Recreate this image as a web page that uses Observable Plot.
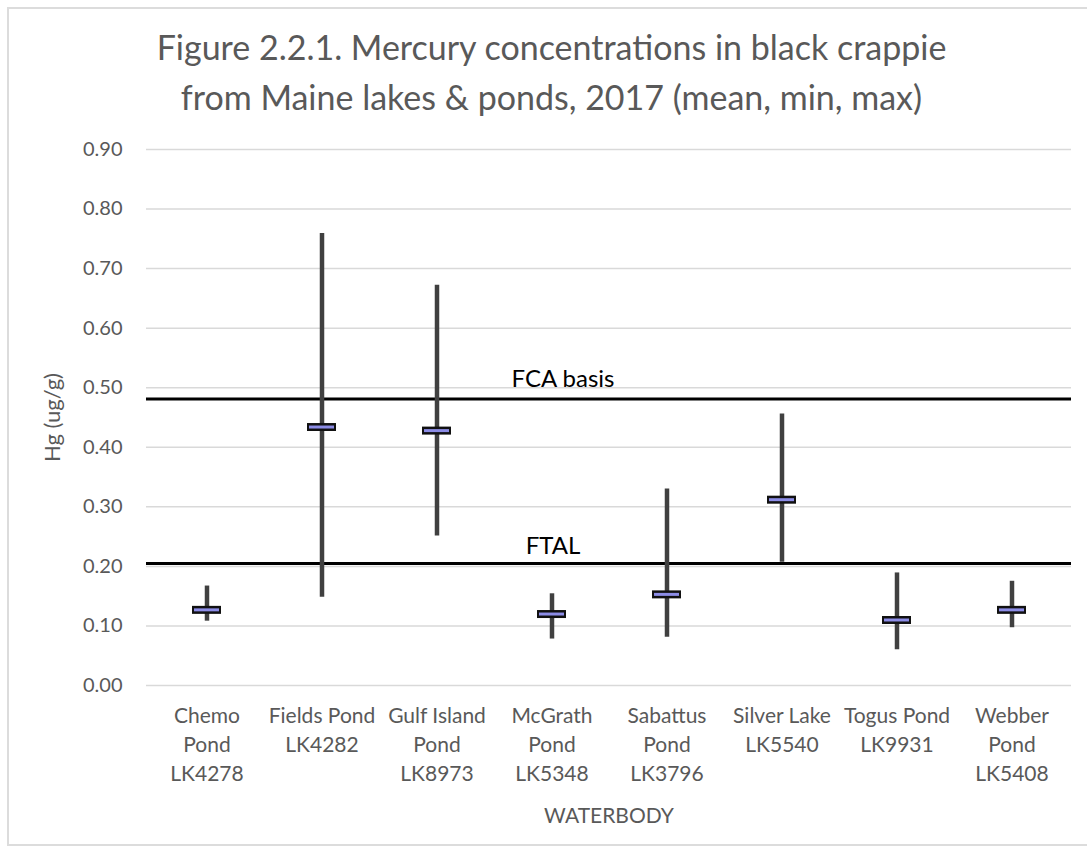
<!DOCTYPE html>
<html>
<head>
<meta charset="utf-8">
<script src="https://cdn.jsdelivr.net/npm/d3@7"></script>
<script src="https://cdn.jsdelivr.net/npm/@observablehq/plot@0.6"></script>
<style>
  html, body { margin: 0; padding: 0; background: #fff; }
  #wrap { position: relative; width: 1087px; height: 852px; overflow: hidden; font-family: Lato, "Open Sans", sans-serif; }
  #frame { position: absolute; left: 7px; top: 7px; width: 1090px; height: 839px; border: 2px solid #dcdcdc; pointer-events: none; box-sizing: border-box; }
  #title { height: 125px; box-sizing: border-box; padding-top: 22px; text-align: center; color: #595959; font-size: 34px; line-height: 50px; padding-left: 16px; white-space: nowrap; }
  svg { display: block; }
  svg [aria-label="y-axis label"] { font-size: 22px; }
  svg [aria-label="x-axis label"] { font-size: 21px; }
</style>
</head>
<body>
<div id="wrap">
  <div id="title">Figure 2.2.1. Mercury concentrations in black crappie<br>from Maine lakes &amp; ponds, 2017 (mean, min, max)</div>
  <div id="chart"></div>
  <div id="frame"></div>
</div>
<script>
const waterbodies = ["Chemo Pond", "Fields Pond", "Gulf Island Pond", "McGrath Pond", "Sabattus Pond", "Silver Lake", "Togus Pond", "Webber Pond"];
const tickLabels = ["Chemo\nPond\nLK4278", "Fields Pond\nLK4282", "Gulf Island\nPond\nLK8973", "McGrath\nPond\nLK5348", "Sabattus\nPond\nLK3796", "Silver Lake\nLK5540", "Togus Pond\nLK9931", "Webber\nPond\nLK5408"];
const meanHg = [0.127, 0.434, 0.428, 0.120, 0.153, 0.312, 0.110, 0.127];
const minHg  = [0.108, 0.148, 0.251, 0.078, 0.081, 0.207, 0.060, 0.097];
const maxHg  = [0.167, 0.759, 0.672, 0.154, 0.330, 0.456, 0.189, 0.175];
const yTicks = [0, 0.1, 0.2, 0.3, 0.4, 0.5, 0.6, 0.7, 0.8, 0.9];
const refNames = ["FCA basis", "FTAL"];
const refValues = [0.481, 0.205];

const rows = waterbodies.map((w, i) => ({w, mean: meanHg[i], min: minHg[i], max: maxHg[i]}));
const labelOf = new Map(waterbodies.map((w, i) => [w, tickLabels[i]]));
const refs = refNames.map((name, i) => ({name, value: refValues[i]}));

const chart = Plot.plot({
  width: 1087,
  height: 727,
  marginTop: 24,
  marginBottom: 167,
  marginLeft: 146,
  marginRight: 16,
  style: {fontFamily: "Lato, 'Open Sans', sans-serif", background: "white"},
  x: {type: "band", domain: waterbodies, padding: 0},
  y: {domain: [0, 0.9]},
  marks: [
    Plot.gridY(yTicks, {stroke: "#d9d9d9", strokeOpacity: 1, strokeWidth: 1.5}),
    Plot.axisY(yTicks, {
      tickFormat: d3.format(".2f"), tickSize: 0, tickPadding: 24, fontSize: 20, color: "#595959",
      label: "Hg (ug/g)", labelAnchor: "center", labelArrow: "none", labelOffset: 102
    }),
    Plot.axisX({
      tickFormat: d => labelOf.get(d), tickSize: 0, tickPadding: 17, fontSize: 21, lineHeight: 1.38,
      color: "#595959", label: "WATERBODY", labelAnchor: "center", labelArrow: "none", labelOffset: 137
    }),
    Plot.ruleY(refs, {y: "value", stroke: "black", strokeWidth: 3}),
    Plot.text(refs.slice(0, 1), {y: "value", text: "name", dx: -46, dy: -20, fontSize: 24, fill: "black"}),
    Plot.text(refs.slice(1, 2), {y: "value", text: "name", dx: -56, dy: -17, fontSize: 24, fill: "black"}),
    Plot.ruleX(rows, {x: "w", y1: "min", y2: "max", stroke: "#404040", strokeWidth: 4.5}),
    Plot.tickY(rows, {x: "w", y: "mean", stroke: "#111", strokeWidth: 8, insetLeft: 43, insetRight: 43}),
    Plot.tickY(rows, {x: "w", y: "mean", stroke: "#8c8ce6", strokeWidth: 3, insetLeft: 45, insetRight: 45})
  ]
});
document.getElementById("chart").appendChild(chart);
</script>
</body>
</html>
